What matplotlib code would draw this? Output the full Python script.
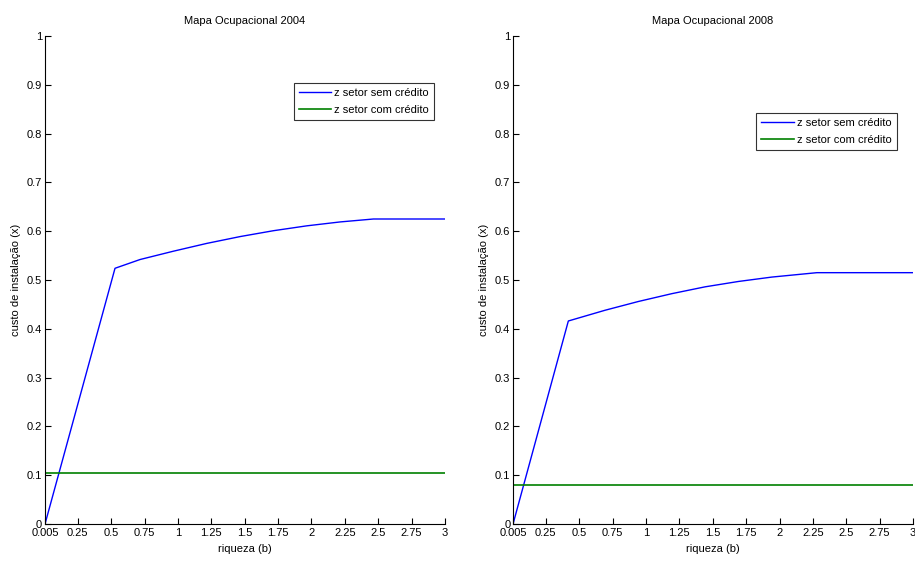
import matplotlib
matplotlib.use('Agg')
import matplotlib.pyplot as plt

plt.rcParams['font.family'] = ['Liberation Sans', 'DejaVu Sans']
plt.rcParams['font.size'] = 8

# riqueza (b) e custo de instalação (x)
b_2004 = [0.005, 0.529, 0.717, 0.966, 1.216, 1.466, 1.715, 1.965, 2.215, 2.464, 3.0]
sem_2004 = [0.0, 0.524, 0.542, 0.559, 0.575, 0.589, 0.601, 0.611, 0.619, 0.625, 0.625]
com_2004 = 0.105

b_2008 = [0.005, 0.419, 0.694, 0.944, 1.194, 1.443, 1.693, 1.943, 2.28, 3.0]
sem_2008 = [0.0, 0.416, 0.438, 0.456, 0.472, 0.486, 0.497, 0.506, 0.515, 0.515]
com_2008 = 0.08

xticks = [0.005, 0.25, 0.5, 0.75, 1, 1.25, 1.5, 1.75, 2, 2.25, 2.5, 2.75, 3]
xlabels = ['0.005', '0.25', '0.5', '0.75', '1', '1.25', '1.5', '1.75', '2',
           '2.25', '2.5', '2.75', '3']
yticks = [0, 0.1, 0.2, 0.3, 0.4, 0.5, 0.6, 0.7, 0.8, 0.9, 1]
ylabels = ['0', '0.1', '0.2', '0.3', '0.4', '0.5', '0.6', '0.7', '0.8', '0.9', '1']

panels = [
    ('Mapa Ocupacional 2004', b_2004, sem_2004, com_2004, 0.0492, (0.9725, 0.904)),
    ('Mapa Ocupacional 2008', b_2008, sem_2008, com_2008, 0.5607, (0.959, 0.842)),
]

fig = plt.figure(figsize=(9.15, 5.61), dpi=100)

for title, b, sem, com, left, anchor in panels:
    ax = fig.add_axes([left, 0.066, 0.4372, 0.8698])
    ax.plot(b, sem, color=(0, 0, 1), lw=1.0, label='z setor sem crédito')
    ax.plot([b[0], b[-1]], [com, com], color=(0, 0.5, 0), lw=1.2,
            label='z setor com crédito')
    ax.set_xlim(0.005, 3)
    ax.set_ylim(0, 1)
    ax.set_xticks(xticks)
    ax.set_xticklabels(xlabels)
    ax.set_yticks(yticks)
    ax.set_yticklabels(ylabels)
    ax.tick_params(direction='in', length=4, width=0.8, labelsize=8)
    ax.tick_params(axis='x', pad=3)
    ax.tick_params(axis='y', pad=2)
    ax.spines['top'].set_visible(False)
    ax.spines['right'].set_visible(False)
    for s in ('left', 'bottom'):
        ax.spines[s].set_linewidth(0.8)
    ax.set_title(title, fontsize=8, pad=9)
    ax.set_xlabel('riqueza (b)', fontsize=8, labelpad=4)
    ax.set_ylabel('custo de instalação (x)', fontsize=8, labelpad=4)
    leg = ax.legend(loc='upper right', bbox_to_anchor=anchor, fontsize=8,
                    frameon=True, fancybox=False, edgecolor='black',
                    borderpad=0.45, handlelength=2.9, handletextpad=0.3,
                    labelspacing=0.6, borderaxespad=0)
    leg.get_frame().set_linewidth(0.8)

fig.savefig('out.png', dpi=100)
